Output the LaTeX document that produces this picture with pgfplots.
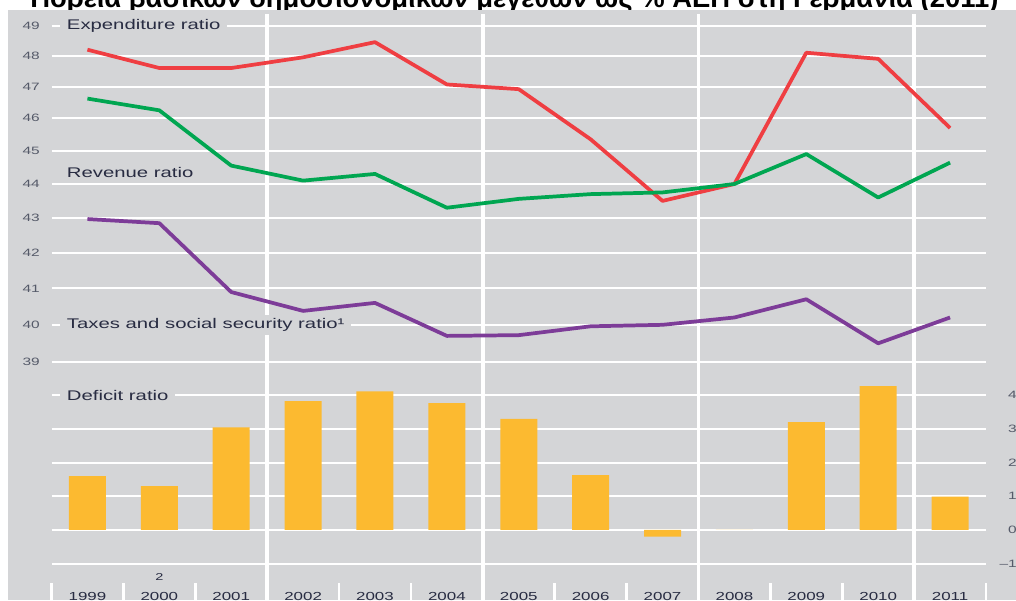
\documentclass[border=0pt]{standalone}
\usepackage{fontspec}
\usepackage{pgfplots}
\pgfplotsset{compat=1.18}
\setmainfont{Liberation Sans}
\newfontfamily\chartfont{Liberation Sans}[FakeStretch=1.45]

\definecolor{bg}{RGB}{212,213,215}
\definecolor{expc}{RGB}{239,62,66}
\definecolor{revc}{RGB}{0,166,81}
\definecolor{taxc}{RGB}{125,60,152}
\definecolor{barc}{RGB}{252,186,48}
\definecolor{labc}{RGB}{40,44,66}
\definecolor{tickc}{RGB}{85,90,105}

\pgfplotsset{
  every chart/.style={
    scale only axis, width=700.875pt,
    xmin=-0.5, xmax=12.5, enlargelimits=false,
    axis line style={draw=none}, major tick length=0pt,
    ymajorgrids, major grid style={white, line width=1.5pt},
    /pgf/number format/assume math mode=true,
    yticklabel style={font=\chartfont\fontsize{8}{9}\selectfont, text=tickc, inner sep=0pt},
  },
}
\tikzset{
  lbl/.style={fill=bg, text=labc, font=\chartfont\fontsize{10.5}{12}\selectfont,
    inner xsep=5pt, inner ysep=2.5pt, anchor=west, xshift=6.4pt},
}

\begin{document}
\begin{tikzpicture}
% 1 px of the reference = 0.75pt
\node[anchor=base west, inner sep=0pt] at (22.5pt,444pt)
  {\resizebox{726pt}{!}{\bfseries Πορεία βασικών δημοσιονομικών μεγεθών ως \% ΑΕΠ στη Γερμανία (2011)}};
\fill[bg] (6pt,0pt) rectangle (770pt,442.5pt);
\begin{scope}[x=0.75pt, y=0.75pt]
  \foreach \k in {3,6,9,12}
    \draw[white, line width=2.6pt] ({51.5+\k*71.88},-5) -- ({51.5+\k*71.88},586);
  \foreach \k in {0,1,2,4,5,7,8,10,11,13}
    \draw[white, line width=2pt] ({51.5+\k*71.88},-5) -- ({51.5+\k*71.88},17);
\end{scope}

% ratios, % of GDP
\begin{axis}[every chart,
  at={(38.625pt,178.5pt)}, anchor=south west, height=252.225pt,
  ymin=39, ymax=49,
  y coord trafo/.code={\pgfmathparse{-(25.7+29.69*(49-#1)+0.394*(49-#1)^2)}},
  y coord inv trafo/.code={\pgfmathparse{49-(-29.69+sqrt(29.69^2-4*0.394*(25.7+#1)))/0.788}},
  xtick=\empty,
  ytick={39,40,41,42,43,44,45,46,47,48,49},
  yticklabels={39,40,41,42,43,44,45,46,47,48,49},
  yticklabel style={anchor=east, xshift=-8.6pt},
  clip=false,
]
\addplot[expc, line width=2.8pt, line join=round] coordinates {
  (0,48.2) (1,47.6) (2,47.6) (3,47.95) (4,48.45) (5,47.07) (6,46.92)
  (7,45.35) (8,43.5) (9,44.0) (10,48.1) (11,47.9) (12,45.7)
};
\addplot[revc, line width=2.8pt, line join=round] coordinates {
  (0,46.62) (1,46.25) (2,44.55) (3,44.1) (4,44.3) (5,43.3) (6,43.56)
  (7,43.7) (8,43.75) (9,44.0) (10,44.9) (11,43.6) (12,44.64)
};
\addplot[taxc, line width=2.8pt, line join=round] coordinates {
  (0,42.97) (1,42.85) (2,40.9) (3,40.38) (4,40.6) (5,39.7) (6,39.72)
  (7,39.96) (8,40.0) (9,40.2) (10,40.7) (11,39.5) (12,40.2)
};
\node[lbl] at (axis cs:-0.5,49) {Expenditure ratio};
\node[lbl] at (axis cs:-0.5,44.35) {Revenue ratio};
\node[lbl] at (axis cs:-0.5,40) {Taxes and social security ratio¹};
\end{axis}

% deficit ratio
\begin{axis}[every chart,
  at={(38.625pt,27.375pt)}, anchor=south west, height=126.15pt,
  ymin=-1, ymax=4,
  ybar, bar width=27.75pt,
  xtick={0,...,12},
  xticklabels={1999,2000,2001,2002,2003,2004,2005,2006,2007,2008,2009,2010,2011},
  xticklabel style={anchor=base, yshift=-28.1pt, text=labc,
    font=\chartfont\fontsize{8.75}{10}\selectfont},
  ytick={-1,0,1,2,3,4},
  yticklabels={–1,0,1,2,3,4},
  yticklabel pos=right,
  yticklabel style={anchor=east, xshift=23.25pt},
  clip=false,
]
\addplot[fill=barc, draw=none, bar shift=0pt] coordinates {
  (0,1.6) (1,1.3) (2,3.05) (3,3.83) (4,4.12) (5,3.77) (6,3.3)
  (7,1.63) (8,-0.2) (9,0) (10,3.2) (11,4.27) (12,0.99)
};
\node[lbl] at (axis cs:-0.5,4) {Deficit ratio};
\node[anchor=base, text=labc, font=\chartfont\fontsize{7.5}{9}\selectfont, yshift=-12.4pt]
  at (axis cs:1,-1) {2};
\end{axis}

\pgfresetboundingbox
\useasboundingbox (0pt,0pt) rectangle (762pt,450pt);
\end{tikzpicture}
\end{document}
